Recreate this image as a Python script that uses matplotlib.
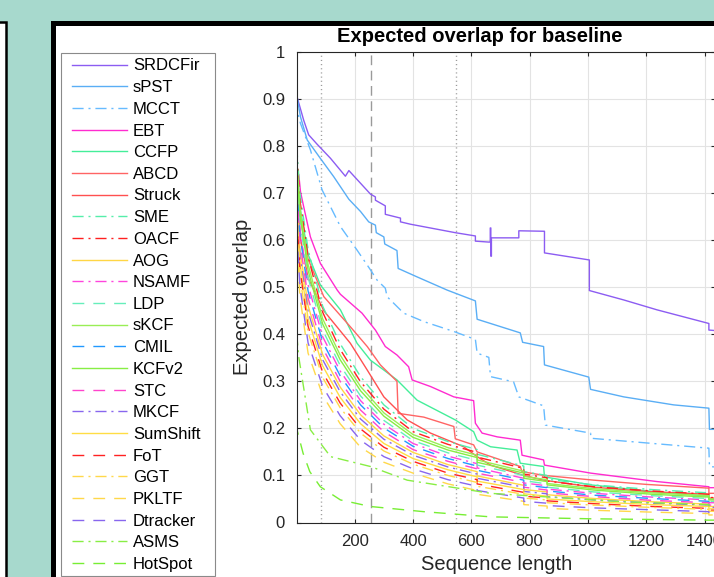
import matplotlib.pyplot as plt
from matplotlib.patches import Rectangle
from matplotlib.transforms import Affine2D

plt.rcParams['font.family'] = ['Liberation Sans', 'DejaVu Sans']
plt.rcParams['lines.scale_dashes'] = False

# ---- data ----------------------------------------------------------------
srdcfir_x = [1, 2, 25, 42, 71, 117, 168, 168, 180, 220, 254, 271, 271, 305, 305, 357, 357, 391, 545, 614, 614,
             660, 665, 665, 667, 667, 669, 669, 763, 763, 851, 851, 1005, 1005, 1123, 1237, 1415, 1415, 1436]
srdcfir_y = [1.0, 0.905, 0.855, 0.824, 0.804, 0.774, 0.736, 0.736, 0.748, 0.721, 0.698, 0.692, 0.685, 0.673, 0.655,
             0.647, 0.639, 0.634, 0.616, 0.609, 0.598, 0.596, 0.596, 0.626, 0.626, 0.566, 0.566, 0.605, 0.605, 0.620,
             0.619, 0.573, 0.558, 0.493, 0.473, 0.452, 0.423, 0.409, 0.408]

spst_x = [1, 2, 14, 37, 82, 128, 180, 220, 248, 271, 274, 300, 303, 345, 349, 414, 517, 614, 620, 768, 776, 848,
          851, 1003, 1009, 1123, 1294, 1415, 1417, 1436]
spst_y = [0.92, 0.905, 0.862, 0.813, 0.774, 0.735, 0.687, 0.661, 0.639, 0.632, 0.616, 0.607, 0.592, 0.578, 0.540,
          0.522, 0.494, 0.471, 0.432, 0.403, 0.383, 0.374, 0.335, 0.309, 0.283, 0.267, 0.250, 0.243, 0.198, 0.198]

mcct_x = [1, 5, 14, 48, 88, 151, 208, 254, 277, 305, 311, 368, 437, 540, 614, 620, 660, 666, 745, 763, 848, 854,
          1009, 1011, 1415, 1417, 1436]
mcct_y = [0.90, 0.87, 0.848, 0.792, 0.707, 0.629, 0.579, 0.537, 0.515, 0.498, 0.480, 0.445, 0.427, 0.406, 0.389,
          0.360, 0.351, 0.310, 0.299, 0.267, 0.248, 0.207, 0.190, 0.179, 0.158, 0.119, 0.118]

ebt_x = [1, 8, 14, 25, 48, 82, 140, 151, 225, 271, 305, 345, 385, 397, 460, 540, 608, 614, 637, 689, 768, 774,
         848, 851, 1009, 1237, 1415, 1415, 1436]
ebt_y = [0.70, 0.74, 0.703, 0.671, 0.607, 0.551, 0.494, 0.485, 0.445, 0.409, 0.374, 0.356, 0.331, 0.303, 0.289,
         0.267, 0.259, 0.211, 0.190, 0.182, 0.175, 0.143, 0.133, 0.122, 0.105, 0.087, 0.076, 0.074, 0.074]

ccfp_x = [1, 15, 40, 82, 151, 208, 254, 300, 345, 414, 545, 608, 620, 666, 757, 768, 848, 851, 1009, 1237, 1415,
          1415, 1436]
ccfp_y = [0.75, 0.66, 0.57, 0.505, 0.452, 0.381, 0.345, 0.324, 0.303, 0.260, 0.218, 0.193, 0.175, 0.161, 0.154,
          0.126, 0.119, 0.097, 0.080, 0.065, 0.056, 0.050, 0.050]

abcd_x = [1, 15, 40, 94, 185, 243, 288, 345, 349, 437, 540, 545, 608, 620, 768, 774, 851, 1020, 1200, 1415, 1415,
          1436]
abcd_y = [0.72, 0.64, 0.56, 0.480, 0.416, 0.374, 0.335, 0.300, 0.232, 0.224, 0.204, 0.178, 0.165, 0.150, 0.119,
          0.108, 0.100, 0.090, 0.081, 0.073, 0.062, 0.062]

struck_x = [1, 15, 40, 94, 185, 243, 300, 380, 460, 574, 620, 666, 780, 848, 1020, 1200, 1415, 1415, 1436]
struck_y = [0.70, 0.60, 0.52, 0.45, 0.381, 0.324, 0.267, 0.218, 0.190, 0.161, 0.140, 0.122, 0.100, 0.090, 0.075,
            0.066, 0.060, 0.052, 0.052]

asms_x = [1, 8, 48, 117, 254, 380, 666, 1123, 1415, 1415, 1436]
asms_y = [0.40, 0.352, 0.197, 0.140, 0.119, 0.090, 0.062, 0.044, 0.038, 0.034, 0.034]

hotspot_x = [1, 2, 23, 46, 82, 151, 254, 437, 666, 1000, 1415, 1436]
hotspot_y = [0.30, 0.197, 0.147, 0.108, 0.076, 0.048, 0.034, 0.023, 0.012, 0.008, 0.005, 0.005]

# the dense bundle, read on a shared set of sequence lengths
bundle_x = [1, 12, 40, 90, 150, 220, 300, 400, 520, 620, 620, 780, 780, 860, 860, 1020, 1220, 1415, 1415, 1436]
sme_y = [0.80, 0.70, 0.58, 0.46, 0.38, 0.31, 0.25, 0.200, 0.172, 0.155, 0.145, 0.120, 0.108, 0.100, 0.092, 0.080, 0.070, 0.063, 0.056, 0.056]
oacf_y = [0.786, 0.685, 0.565, 0.447, 0.368, 0.299, 0.241, 0.193, 0.166, 0.149, 0.139, 0.115, 0.103, 0.095, 0.088, 0.076, 0.067, 0.060, 0.053, 0.053]
skcf_y = [0.772, 0.669, 0.549, 0.433, 0.356, 0.289, 0.233, 0.187, 0.159, 0.143, 0.133, 0.109, 0.098, 0.091, 0.083, 0.072, 0.063, 0.057, 0.050, 0.050]
kcfv2_y = [0.76, 0.656, 0.536, 0.422, 0.346, 0.280, 0.226, 0.181, 0.154, 0.138, 0.128, 0.105, 0.094, 0.087, 0.080, 0.069, 0.060, 0.054, 0.048, 0.048]
ldp_y = [0.746, 0.641, 0.521, 0.409, 0.334, 0.269, 0.217, 0.174, 0.148, 0.132, 0.122, 0.100, 0.089, 0.082, 0.075, 0.065, 0.057, 0.051, 0.045, 0.045]
nsamf_y = [0.732, 0.625, 0.505, 0.395, 0.322, 0.259, 0.209, 0.168, 0.141, 0.125, 0.116, 0.094, 0.084, 0.078, 0.071, 0.062, 0.054, 0.048, 0.042, 0.042]
cmil_y = [0.72, 0.612, 0.492, 0.384, 0.312, 0.250, 0.201, 0.162, 0.136, 0.120, 0.111, 0.090, 0.080, 0.074, 0.067, 0.058, 0.051, 0.045, 0.040, 0.040]
stc_y = [0.706, 0.597, 0.477, 0.371, 0.300, 0.239, 0.193, 0.155, 0.130, 0.114, 0.105, 0.085, 0.075, 0.069, 0.063, 0.055, 0.047, 0.042, 0.037, 0.037]
aog_y = [0.692, 0.581, 0.461, 0.357, 0.288, 0.229, 0.184, 0.149, 0.123, 0.108, 0.099, 0.079, 0.070, 0.065, 0.059, 0.051, 0.044, 0.039, 0.034, 0.034]
mkcf_y = [0.68, 0.568, 0.448, 0.346, 0.278, 0.220, 0.177, 0.143, 0.118, 0.103, 0.094, 0.075, 0.066, 0.061, 0.055, 0.048, 0.041, 0.037, 0.032, 0.032]
sumshift_y = [0.666, 0.553, 0.433, 0.333, 0.266, 0.210, 0.168, 0.136, 0.112, 0.097, 0.088, 0.070, 0.061, 0.056, 0.050, 0.044, 0.038, 0.034, 0.029, 0.029]
fot_y = [0.652, 0.537, 0.417, 0.319, 0.254, 0.199, 0.160, 0.130, 0.105, 0.091, 0.082, 0.064, 0.056, 0.052, 0.046, 0.040, 0.034, 0.030, 0.026, 0.026]
ggt_y = [0.64, 0.524, 0.404, 0.308, 0.244, 0.190, 0.152, 0.124, 0.100, 0.085, 0.077, 0.060, 0.052, 0.048, 0.042, 0.037, 0.032, 0.028, 0.024, 0.024]
pkltf_y = [0.60, 0.48, 0.36, 0.27, 0.21, 0.160, 0.128, 0.105, 0.082, 0.068, 0.060, 0.045, 0.038, 0.035, 0.030, 0.026, 0.022, 0.019, 0.016, 0.016]
dtracker_y = [0.62, 0.502, 0.382, 0.289, 0.227, 0.175, 0.140, 0.114, 0.091, 0.077, 0.068, 0.052, 0.045, 0.041, 0.036, 0.031, 0.027, 0.023, 0.020, 0.020]

interval_low, interval_peak, interval_high = 85, 255, 547

# ---- styles ---------------------------------------------------------------
SOLID = '-'
DASH = (0, (8.5, 6.5))
DASHDOT = (0, (8, 3.5, 1.5, 3.5))

series = [
    ('SRDCFir', srdcfir_x, srdcfir_y, '#8c5cf2', SOLID),
    ('sPST', spst_x, spst_y, '#5aaef5', SOLID),
    ('MCCT', mcct_x, mcct_y, '#66bbff', DASHDOT),
    ('EBT', ebt_x, ebt_y, '#ff2bd0', SOLID),
    ('CCFP', ccfp_x, ccfp_y, '#44ee99', SOLID),
    ('ABCD', abcd_x, abcd_y, '#ff6464', SOLID),
    ('Struck', struck_x, struck_y, '#ff5050', SOLID),
    ('SME', bundle_x, sme_y, '#55eeaa', DASHDOT),
    ('OACF', bundle_x, oacf_y, '#ff2020', DASHDOT),
    ('AOG', bundle_x, aog_y, '#ffd645', SOLID),
    ('NSAMF', bundle_x, nsamf_y, '#ff44dd', DASHDOT),
    ('LDP', bundle_x, ldp_y, '#66eebb', DASH),
    ('sKCF', bundle_x, skcf_y, '#99ee55', SOLID),
    ('CMIL', bundle_x, cmil_y, '#2299ff', DASH),
    ('KCFv2', bundle_x, kcfv2_y, '#88ee44', SOLID),
    ('STC', bundle_x, stc_y, '#ff44cc', DASH),
    ('MKCF', bundle_x, mkcf_y, '#8866ee', DASHDOT),
    ('SumShift', bundle_x, sumshift_y, '#ffdd44', SOLID),
    ('FoT', bundle_x, fot_y, '#ff2222', DASH),
    ('GGT', bundle_x, ggt_y, '#ffd84a', DASHDOT),
    ('PKLTF', bundle_x, pkltf_y, '#ffd84a', DASH),
    ('Dtracker', bundle_x, dtracker_y, '#8866ee', DASH),
    ('ASMS', asms_x, asms_y, '#88ee44', DASHDOT),
    ('HotSpot', hotspot_x, hotspot_y, '#77ee33', DASH),
]

W, H = 714, 577
fig = plt.figure(figsize=(W / 100, H / 100), dpi=100)
fig.patch.set_facecolor('#a7d9cd')
# image pixel coords (origin top-left) -> display
img = Affine2D().scale(1, -1).translate(0, H)

# window panels behind the chart
fig.add_artist(Rectangle((-30, 21.5), 36, 620, transform=img, facecolor='white',
                         edgecolor='black', lw=1.8, zorder=-3))
fig.add_artist(Rectangle((52.5, 22.5), 740, 620, transform=img, facecolor='white',
                         edgecolor='black', lw=3.6, zorder=-3))

ax = fig.add_axes([296.7 / W, 1 - 522.5 / H, (715 - 296.7) / W, 470.5 / H])
ax.set_facecolor('white')

for lx, ls in [(interval_low, (0, (0.8, 2.2))), (interval_peak, (0, (7, 4))), (interval_high, (0, (0.8, 2.2)))]:
    ax.axvline(lx, color='#9a9a9a', lw=1.0, linestyle=ls, zorder=1.5)

handles = []
for name, xs, ys, col, ls in series:
    ln, = ax.plot(xs, ys, color=col, linestyle=ls, lw=1.0, label=name, zorder=2)
    handles.append(ln)

ax.set_xlim(1, 1436)
ax.set_ylim(0, 1)
ax.set_xticks([200, 400, 600, 800, 1000, 1200, 1400])
ax.set_yticks([0, 0.1, 0.2, 0.3, 0.4, 0.5, 0.6, 0.7, 0.8, 0.9, 1])
ax.set_yticklabels(['0', '0.1', '0.2', '0.3', '0.4', '0.5', '0.6', '0.7', '0.8', '0.9', '1'])
ax.grid(True, color='#e3e3e3', lw=0.8)
ax.set_axisbelow(True)
ax.tick_params(direction='in', length=3, width=0.8, color='#262626', labelcolor='#262626',
               labelsize=12, top=True, right=True)
ax.tick_params(axis='y', pad=8.4)
ax.tick_params(axis='x', pad=8)
for sp in ax.spines.values():
    sp.set_color('#262626')
    sp.set_linewidth(0.8)

fig.text(480, 36.5, 'Expected overlap for baseline', transform=img, ha='center', va='center',
         fontsize=14.5, fontweight='bold', color='black')
fig.text(497, 564, 'Sequence length', transform=img, ha='center', va='center', fontsize=14.5, color='#262626')
fig.text(243, 296.5, 'Expected overlap', transform=img, ha='center', va='center', rotation=90,
         fontsize=14.5, color='#262626')

# legend box, entries placed inside
fig.add_artist(Rectangle((60.5, 52.5), 154.5, 523.5, transform=img, facecolor='white',
                         edgecolor='#8a8a8a', lw=0.8, zorder=-1))
fig.legend(handles=handles, loc='upper left', bbox_to_anchor=(72 / W, 1 - 58.5 / H), frameon=False,
           borderpad=0, borderaxespad=0, handlelength=3.3, handletextpad=0.36, labelspacing=0.40,
           fontsize=12)

fig.savefig('out.png', dpi=100, facecolor=fig.get_facecolor())
